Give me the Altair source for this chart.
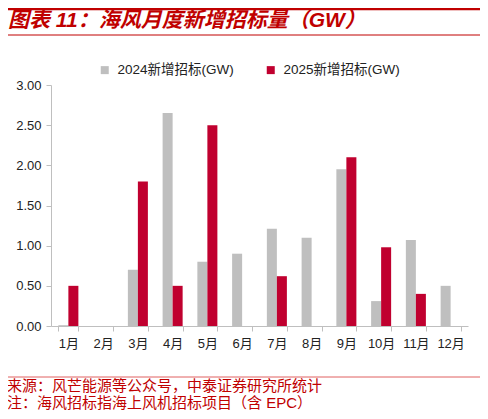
import pandas as pd
import altair as alt

months = ["1月", "2月", "3月", "4月", "5月", "6月", "7月", "8月", "9月", "10月", "11月", "12月"]
s2024 = [0.01, None, 0.70, 2.65, 0.80, 0.90, 1.21, 1.10, 1.95, 0.31, 1.07, 0.50]
s2025 = [0.50, None, 1.80, 0.50, 2.50, None, 0.62, None, 2.10, 0.98, 0.40, None]
series = ["2024新增招标(GW)", "2025新增招标(GW)"]
colors = ["#BFBFBF", "#C0002F"]

title_text = "图表 11：海风月度新增招标量（GW）"
source_text = "来源：风芒能源等公众号，中泰证券研究所统计"
note_text = "注：海风招标指海上风机招标项目（含 EPC）"

rows = []
for m, a, b in zip(months, s2024, s2025):
    if a is not None:
        rows.append({"月份": m, "系列": series[0], "值": a})
    if b is not None:
        rows.append({"月份": m, "系列": series[1], "值": b})
df = pd.DataFrame(rows)

FONT = "Liberation Sans, Noto Sans CJK SC"
RED = "#C00000"

bars = alt.Chart(df).mark_bar().encode(
    x=alt.X("月份:N", sort=months, title=None,
            scale=alt.Scale(domain=months, paddingInner=0.424, paddingOuter=0.212),
            axis=alt.Axis(labelAngle=0, labelFontSize=13, labelColor="#222222", labelPadding=6,
                          tickBand="extent", tickSize=5, tickColor="#BFBFBF",
                          domainColor="#BFBFBF", labelFont=FONT)),
    xOffset=alt.XOffset("系列:N", sort=series, scale=alt.Scale(domain=series, paddingInner=0)),
    y=alt.Y("值:Q", title=None,
            scale=alt.Scale(domain=[0, 3]),
            axis=alt.Axis(values=[0, 0.5, 1, 1.5, 2, 2.5, 3], format=".2f", grid=False,
                          labelFontSize=13, labelColor="#222222", labelPadding=5,
                          tickSize=5, tickColor="#BFBFBF", domainColor="#BFBFBF", labelFont=FONT)),
    color=alt.Color("系列:N", sort=series, scale=alt.Scale(domain=series, range=colors),
                    legend=alt.Legend(title=None, orient="none", direction="horizontal",
                                      legendX=47, legendY=-22, symbolType="square",
                                      symbolSize=64, symbolStrokeWidth=0, labelFontSize=13.5,
                                      labelColor="#222222", labelFont=FONT, columnPadding=30,
                                      labelOffset=6)),
)

# decoration: header/footer rules and texts
top_line = alt.Chart().mark_rule(color=RED, strokeWidth=2.5).encode(
    x=alt.value(-46), x2=alt.value(432), y=alt.value(-76))
mid_line = alt.Chart().mark_rule(color=RED, strokeWidth=1).encode(
    x=alt.value(-46), x2=alt.value(432), y=alt.value(-50))
foot_line = alt.Chart().mark_rule(color="#E06060", strokeWidth=1).encode(
    x=alt.value(-46), x2=alt.value(432), y=alt.value(292))

title = alt.Chart().mark_text(text=title_text, align="left", baseline="middle", fontSize=21,
                              fontWeight="bold", fontStyle="italic", color=RED, font=FONT).encode(
    x=alt.value(-43), y=alt.value(-64))
source = alt.Chart().mark_text(text=source_text, align="left", baseline="middle", fontSize=15,
                               color=RED, font=FONT).encode(x=alt.value(-44), y=alt.value(301))
note = alt.Chart().mark_text(text=note_text, align="left", baseline="middle", fontSize=15,
                             color=RED, font=FONT).encode(x=alt.value(-44), y=alt.value(318))

chart = alt.layer(bars, top_line, mid_line, foot_line, title, source, note).properties(
    width=417, height=241,
    autosize=alt.AutoSizeParams(type="none"),
    padding={"left": 43, "top": 77, "right": 12, "bottom": 85},
).configure_view(strokeOpacity=0).configure_axis(ticks=True)

chart.save("out.html", embed_options={"renderer": "svg", "actions": False})
